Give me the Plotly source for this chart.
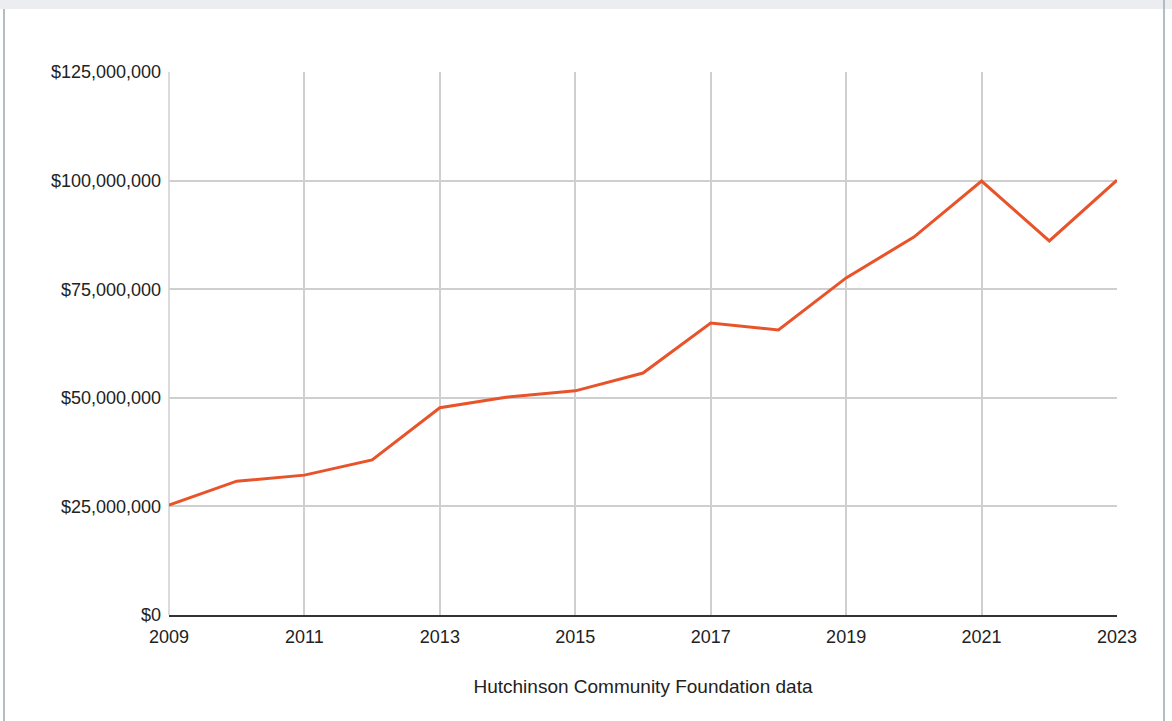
import plotly.graph_objects as go

years = list(range(2009, 2024))
values = [25.3e6, 30.8e6, 32.2e6, 35.7e6, 47.7e6, 50.2e6, 51.6e6, 55.7e6,
          67.2e6, 65.6e6, 77.6e6, 87.0e6, 99.9e6, 86.1e6, 100.1e6]
x_ticks = [2009, 2011, 2013, 2015, 2017, 2019, 2021, 2023]
y_ticks = [0, 25e6, 50e6, 75e6, 100e6, 125e6]
x_title = "Hutchinson Community Foundation data"

W, H = 1172, 721
L, R, T, B = 169, 55, 72, 106
pw, ph = W - L - R, H - T - B

def px_x(p):
    return (p - L) / pw

def px_y(p):
    return (H - B - p) / ph

fig = go.Figure()
fig.add_trace(go.Scatter(x=years, y=values, mode="lines",
                         line=dict(color="#E8532A", width=3), showlegend=False,
                         cliponaxis=False))

font = dict(family="Liberation Sans, Arial, sans-serif", size=18, color="#222222")
title_font = dict(family="Liberation Sans, Arial, sans-serif", size=19, color="#222222")

fig.update_layout(
    width=W, height=H,
    margin=dict(l=L, r=R, t=T, b=B),
    paper_bgcolor="white", plot_bgcolor="white",
    font=font,
    xaxis=dict(range=[2009, 2023], tickvals=x_ticks, ticktext=[str(v) for v in x_ticks],
               showgrid=True, gridcolor="#CFCFCF", gridwidth=1.5,
               showline=True, linecolor="#333333", linewidth=1.5,
               ticks="", zeroline=False, tickfont=font, ticklabelstandoff=5,
               title=dict(text=x_title, font=title_font, standoff=33)),
    yaxis=dict(range=[0, 125e6], tickvals=y_ticks,
               ticktext=["$" + format(int(v), ",") for v in y_ticks],
               showgrid=True, gridcolor="#CFCFCF", gridwidth=1.5,
               showline=False, zeroline=False, ticks="", tickfont=font,
               ticklabelstandoff=7),
    shapes=[
        dict(type="rect", xref="paper", yref="paper", x0=px_x(0), x1=px_x(W),
             y0=px_y(9), y1=px_y(0), fillcolor="#EBEDF0", line=dict(width=0), layer="below"),
        dict(type="line", xref="paper", yref="paper", x0=px_x(4), x1=px_x(4),
             y0=px_y(721), y1=px_y(9), line=dict(color="#B4BCC4", width=2)),
        dict(type="line", xref="paper", yref="paper", x0=px_x(1164), x1=px_x(1164),
             y0=px_y(721), y1=px_y(0), line=dict(color="#B4BCC4", width=2)),
        dict(type="line", xref="paper", yref="paper", x0=0, x1=0, y0=0, y1=1,
             line=dict(color="#CFCFCF", width=1.5), layer="below"),
    ],
)

fig.write_html("out.html")
